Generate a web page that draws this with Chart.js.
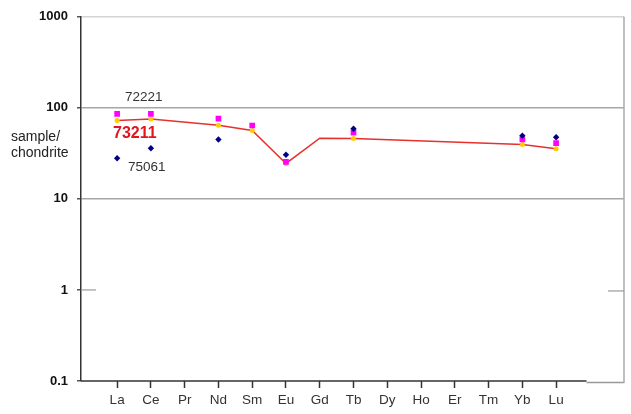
<!DOCTYPE html>
<html>
<head>
<meta charset="utf-8">
<script src="https://cdn.jsdelivr.net/npm/chart.js@4.4.1/dist/chart.umd.min.js"></script>
<style>
  body { margin: 0; background: #fff; }
  #wrap { position: relative; width: 631px; height: 414px; font-family: 'Liberation Sans', Arial, sans-serif; }
  .lbl { position: absolute; line-height: 1; white-space: nowrap; }
</style>
</head>
<body>
<div id="wrap">
  <canvas id="ree" width="631" height="414"></canvas>
  <div class="lbl" style="left:11px;top:129px;font-size:14px;color:#222">sample/</div>
  <div class="lbl" style="left:11px;top:145px;font-size:14px;color:#222">chondrite</div>
  <div class="lbl" style="left:125px;top:90px;font-size:13.5px;color:#333">72221</div>
  <div class="lbl" style="left:113px;top:125px;font-size:16px;font-weight:bold;color:#e3141c">73211</div>
  <div class="lbl" style="left:128px;top:160px;font-size:13.5px;color:#333">75061</div>
</div>
<script>
  // REE, normalised to chondrite
  var elements = ['La','Ce','Pr','Nd','Sm','Eu','Gd','Tb','Dy','Ho','Er','Tm','Yb','Lu'];
  var s72221 = [86, 86, null, 76, 64, 25.5, null, 53.5, null, null, null, null, 45, 41];
  var s73211 = [72.5, 75.5, null, 64.5, 56.5, 24.5, 46.5, 46, null, null, null, null, 39.5, 35.5];
  var s75061 = [28, 36, null, 45, null, 30.5, null, 59, null, null, null, null, 49.5, 47.5];
  var yTicks = [0.1, 1, 10, 100, 1000];
  var noMarker = ['Gd'];   // 73211 line passes Gd without a marker

  var fam = "'Liberation Sans', Arial, sans-serif";

  function toPoints(arr) {
    return arr.map(function(v, i) { return {x: i + 1, y: v}; })
              .filter(function(p) { return p.y !== null; });
  }

  function seg(ctx, x1, y1, x2, y2) {
    ctx.beginPath(); ctx.moveTo(x1, y1); ctx.lineTo(x2, y2); ctx.stroke();
  }

  // frame bits the axes don't draw: bottom axis, right edge, short ticks at 1
  var frame = {
    id: 'frame',
    afterDraw: function(chart) {
      var ctx = chart.ctx, a = chart.chartArea;
      var x = chart.scales.x, y = chart.scales.y;
      var y1 = y.getPixelForValue(1);
      var xEnd = x.getPixelForValue(14.9);
      ctx.save();
      ctx.lineWidth = 1.5;
      ctx.strokeStyle = '#333';
      seg(ctx, a.left, a.bottom, xEnd, a.bottom);
      ctx.strokeStyle = '#999';
      seg(ctx, xEnd, a.bottom + 1.5, a.right, a.bottom + 1.5);
      ctx.strokeStyle = '#aaa';
      seg(ctx, a.right, a.top, a.right, a.bottom + 2);
      ctx.lineWidth = 1.2;
      ctx.strokeStyle = '#999';
      seg(ctx, a.left, y1, a.left + 15, y1);
      seg(ctx, a.right - 16, y1 + 1, a.right, y1 + 1);
      ctx.restore();
    }
  };

  var chart = new Chart(document.getElementById('ree'), {
    type: 'scatter',
    data: {
      datasets: [{
        label: '75061',
        data: toPoints(s75061),
        order: 0,
        pointStyle: 'rectRot',
        pointRadius: 3.2,
        backgroundColor: '#000080',
        borderColor: '#000080',
        borderWidth: 0
      }, {
        label: '72221',
        data: toPoints(s72221),
        order: 1,
        pointStyle: 'rect',
        pointRadius: 4,
        backgroundColor: '#ff00ff',
        borderColor: '#ff00ff',
        borderWidth: 0
      }, {
        label: '73211',
        data: toPoints(s73211),
        order: 2,
        showLine: true,
        spanGaps: true,
        tension: 0,
        borderColor: '#e8302c',
        borderWidth: 1.5,
        pointStyle: 'circle',
        pointRadius: function(c) {
          return c.raw && noMarker.indexOf(elements[c.raw.x - 1]) >= 0 ? 0 : 2.5;
        },
        pointBackgroundColor: '#ffcc00',
        pointBorderWidth: 0
      }]
    },
    options: {
      responsive: false,
      animation: false,
      layout: { padding: { top: 16, right: 7, left: 0, bottom: 0 } },
      plugins: { legend: { display: false }, tooltip: { enabled: false } },
      scales: {
        x: {
          type: 'linear',
          min: -0.07,
          max: 16.01,
          afterFit: function(s) { s.height = 33; },
          afterBuildTicks: function(s) {
            s.ticks = elements.map(function(e, i) { return {value: i + 1}; });
          },
          ticks: {
            autoSkip: false,
            maxRotation: 0,
            padding: 4,
            color: '#333',
            font: { family: fam, size: 13.5 },
            callback: function(v) { return elements[v - 1] || ''; }
          },
          grid: { drawOnChartArea: false, tickLength: 7, tickColor: '#333', tickWidth: 1.5 },
          border: { display: false }
        },
        y: {
          type: 'logarithmic',
          min: 0.1,
          max: 1000,
          afterFit: function(s) { s.width = 81; },
          afterBuildTicks: function(s) {
            s.ticks = yTicks.map(function(v) { return {value: v}; });
          },
          ticks: {
            padding: 9,
            color: '#111',
            font: { family: fam, size: 13, weight: 'bold' },
            callback: function(v) { return String(v); }
          },
          grid: {
            color: function(c) {
              var v = c.tick ? c.tick.value : null;
              if (v === 10 || v === 100) return '#a6a6a6';
              if (v === 1000) return '#d4d4d4';
              return 'rgba(0,0,0,0)';
            },
            lineWidth: 1.5,
            tickLength: 4,
            tickColor: '#555'
          },
          border: { color: '#333', width: 1.5 }
        }
      }
    },
    plugins: [frame]
  });
</script>
</body>
</html>
